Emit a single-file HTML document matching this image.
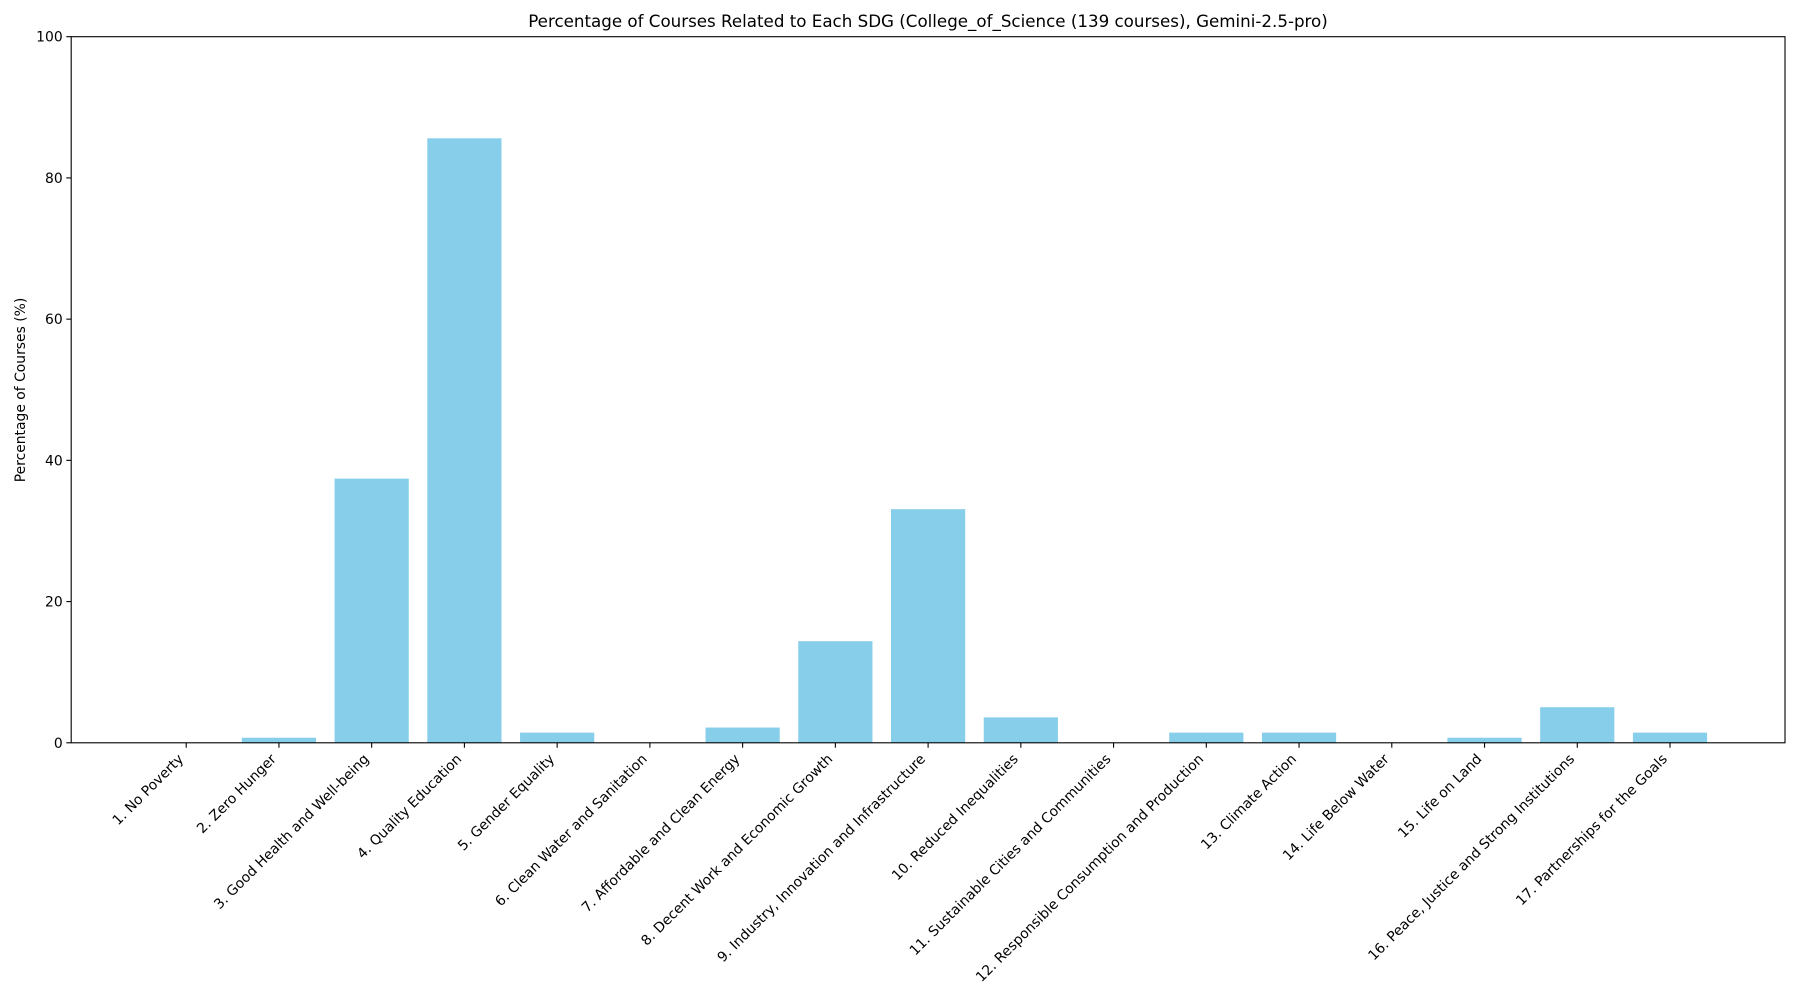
<!DOCTYPE html>
<html><head><meta charset="utf-8"><style>
html,body{margin:0;padding:0;background:#fff;}
svg{display:block;font-family:"DejaVu Sans","Liberation Sans",sans-serif;}
</style></head><body>
<svg id="chart" width="1800" height="1000" xmlns="http://www.w3.org/2000/svg">
<text x="928" y="27" font-size="16.7" text-anchor="middle" fill="#000">Percentage of Courses Related to Each SDG (College_of_Science (139 courses), Gemini-2.5-pro)</text>
<text transform="translate(25,390) rotate(-90)" font-size="13.9" text-anchor="middle" fill="#000">Percentage of Courses (%)</text>
<g id="bars"></g>
<g id="xticks"></g>
<g id="yticks"></g>
<rect x="71.2" y="36.7" width="1713.8" height="706.1" fill="none" stroke="#000" stroke-width="1.1"/>
</svg>
<script>
const categories = ["1. No Poverty","2. Zero Hunger","3. Good Health and Well-being","4. Quality Education","5. Gender Equality","6. Clean Water and Sanitation","7. Affordable and Clean Energy","8. Decent Work and Economic Growth","9. Industry, Innovation and Infrastructure","10. Reduced Inequalities","11. Sustainable Cities and Communities","12. Responsible Consumption and Production","13. Climate Action","14. Life Below Water","15. Life on Land","16. Peace, Justice and Strong Institutions","17. Partnerships for the Goals"];
const values = [0, 0.72, 37.41, 85.61, 1.44, 0, 2.16, 14.39, 33.09, 3.60, 0, 1.44, 1.44, 0, 0.72, 5.04, 1.44];
const yTicks = [0, 20, 40, 60, 80, 100];

const NS = "http://www.w3.org/2000/svg";
const L = 71.2, R = 1785, T = 36.7, B = 742.8;
const xmin = -1.24, xmax = 17.24;
function xs(v){ return L + (v - xmin) / (xmax - xmin) * (R - L); }
function ys(v){ return B - v / 100 * (B - T); }
function mk(tag, attrs){ const e = document.createElementNS(NS, tag); for (const k in attrs) e.setAttribute(k, attrs[k]); return e; }

const gb = document.getElementById('bars');
const gx = document.getElementById('xticks');
const gy = document.getElementById('yticks');
categories.forEach((c, i) => {
  const x0 = xs(i - 0.4), x1 = xs(i + 0.4);
  const y = ys(values[i]);
  const r = mk('rect', {x: x0, y: y, width: x1 - x0, height: B - y, fill: '#87ceeb'});
  
  
  gb.appendChild(r);
  const cx = xs(i);
  const t = mk('line', {x1: cx, x2: cx, y1: B, y2: B + 4.9, stroke: '#000', 'stroke-width': 1.1});
  
  
  gx.appendChild(t);
  const lb = mk('text', {transform: 'translate(' + (cx - 2) + ',' + (B + 17) + ') rotate(-45)', 'font-size': 13.9, 'text-anchor': 'end', fill: '#000'});
  lb.textContent = c;
  
  
  gx.appendChild(lb);
});
yTicks.forEach(v => {
  const y = ys(v);
  const t = mk('line', {x1: L - 4.9, x2: L, y1: y, y2: y, stroke: '#000', 'stroke-width': 1.1});
  
  
  gy.appendChild(t);
  const lb = mk('text', {x: L - 8.5, y: y + 5, 'font-size': 13.9, 'text-anchor': 'end', fill: '#000'});
  lb.textContent = v;
  
  
  gy.appendChild(lb);
});
</script>
</body></html>
